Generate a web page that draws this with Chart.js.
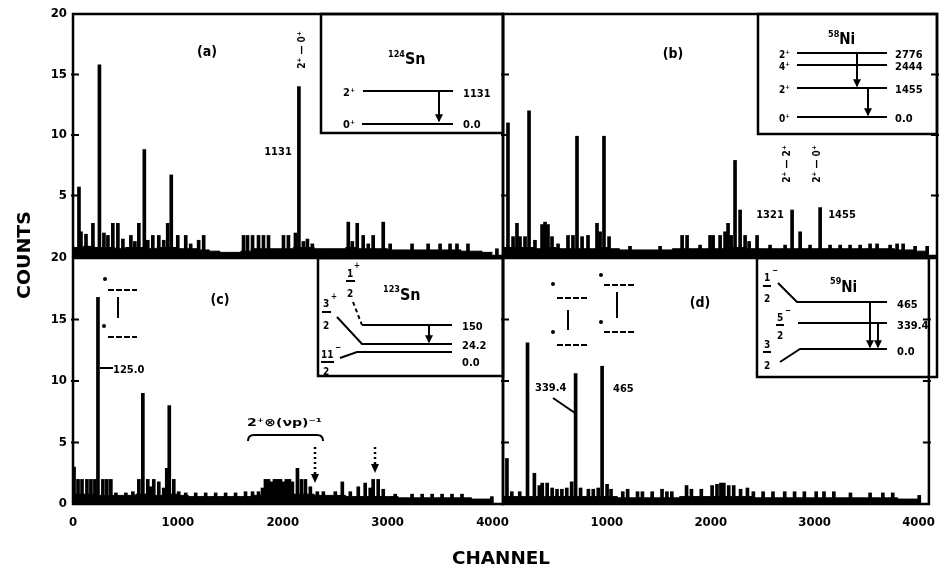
<!DOCTYPE html>
<html><head><meta charset="utf-8">
<script src="https://cdn.jsdelivr.net/npm/chart.js@4"></script>
<style>
html,body{margin:0;padding:0;background:#fff;}
#wrap{position:relative;width:946px;height:575px;overflow:hidden;background:#fff;}
canvas{position:absolute;left:0;top:0;}
svg{position:absolute;left:0;top:0;}
</style></head><body>
<div id="wrap">
<canvas id="ca" width="946" height="575"></canvas>
<canvas id="cb" width="946" height="575"></canvas>
<canvas id="cc" width="946" height="575"></canvas>
<canvas id="cd" width="946" height="575"></canvas>
<svg width="946" height="575" font-family="'DejaVu Sans Condensed','DejaVu Sans',sans-serif" font-weight="bold" fill="#000">
<defs><marker id="ah" viewBox="0 0 6 6" refX="5" refY="3" markerWidth="4" markerHeight="4" orient="auto"><path d="M0,0 L6,3 L0,6 z" fill="#000"/></marker></defs>
<g stroke="#000" fill="none" stroke-width="2.5">
 <rect x="321" y="14" width="182" height="119"/>
 <rect x="758" y="14" width="179" height="120"/>
 <rect x="318" y="258" width="185" height="118"/>
 <rect x="757" y="258" width="180" height="119"/>
</g>
<!-- panel a -->
<text x="207" y="56" font-size="14" text-anchor="middle">(a)</text>
<text x="278" y="155" font-size="11" text-anchor="middle">1131</text>
<text transform="translate(305,50) rotate(-90)" font-size="10" text-anchor="middle">2⁺ — 0⁺</text>
<text x="388" y="64"><tspan font-size="9" dy="-7">124</tspan><tspan font-size="16" dy="7">Sn</tspan></text>
<text x="343" y="96" font-size="11">2⁺</text>
<text x="343" y="128" font-size="11">0⁺</text>
<g stroke="#000" stroke-width="2" fill="none">
 <line x1="363" y1="91" x2="453" y2="91"/><line x1="362" y1="124" x2="453" y2="124"/>
 <line x1="439" y1="92" x2="439" y2="121" marker-end="url(#ah)"/>
</g>
<text x="463" y="97" font-size="11">1131</text>
<text x="463" y="128" font-size="11">0.0</text>
<!-- panel b -->
<text x="673" y="58" font-size="14" text-anchor="middle">(b)</text>
<text x="828" y="44"><tspan font-size="9" dy="-7">58</tspan><tspan font-size="15" dy="7">Ni</tspan></text>
<text x="779" y="58" font-size="10">2⁺</text><text x="779" y="70" font-size="10">4⁺</text>
<text x="779" y="93" font-size="10">2⁺</text><text x="779" y="122" font-size="10">0⁺</text>
<g stroke="#000" stroke-width="2" fill="none">
 <line x1="797" y1="53" x2="887" y2="53"/><line x1="797" y1="65" x2="887" y2="65"/>
 <line x1="797" y1="88" x2="887" y2="88"/><line x1="797" y1="117" x2="887" y2="117"/>
 <line x1="857" y1="54" x2="857" y2="86" marker-end="url(#ah)"/>
 <line x1="868" y1="89" x2="868" y2="115" marker-end="url(#ah)"/>
</g>
<text x="895" y="58" font-size="11">2776</text><text x="895" y="70" font-size="11">2444</text>
<text x="895" y="93" font-size="11">1455</text><text x="895" y="122" font-size="11">0.0</text>
<text transform="translate(790,164) rotate(-90)" font-size="10" text-anchor="middle">2⁺ — 2⁺</text>
<text transform="translate(820,164) rotate(-90)" font-size="10" text-anchor="middle">2⁺ — 0⁺</text>
<text x="770" y="218" font-size="11" text-anchor="middle">1321</text>
<text x="842" y="218" font-size="11" text-anchor="middle">1455</text>
<!-- panel c -->
<text x="220" y="304" font-size="14" text-anchor="middle">(c)</text>
<g stroke="#000" stroke-width="2" fill="none">
 <line x1="108" y1="290" x2="137" y2="290" stroke-dasharray="6 2"/>
 <line x1="108" y1="337" x2="137" y2="337" stroke-dasharray="6 2"/>
 <line x1="118" y1="297" x2="118" y2="318"/>
 <line x1="100" y1="368" x2="113" y2="368"/>
 <path d="M248,441 Q248,435 254,435 L317,435 Q323,435 323,441"/>
</g>
<circle cx="105" cy="279" r="2"/><circle cx="104" cy="326" r="2"/>
<text x="113" y="373" font-size="11">125.0</text>
<text x="247" y="426" font-size="11" textLength="75" lengthAdjust="spacingAndGlyphs">2⁺⊗(νp)⁻¹</text>
<g stroke="#000" stroke-width="2.5" fill="none" stroke-dasharray="2 3">
 <line x1="315" y1="447" x2="315" y2="476"/><line x1="375" y1="447" x2="375" y2="466"/>
</g>
<path d="M311,474 L319,474 L315,483 z"/><path d="M371,464 L379,464 L375,473 z"/>
<text x="383" y="300"><tspan font-size="9" dy="-8">123</tspan><tspan font-size="16" dy="8">Sn</tspan></text>
<g font-size="10">
 <text x="347" y="277">1</text><text x="347" y="297">2</text><text x="354" y="268" font-size="8">+</text>
 <text x="323" y="307">3</text><text x="323" y="329">2</text><text x="331" y="299" font-size="8">+</text>
 <text x="321" y="358">11</text><text x="323" y="375">2</text><text x="335" y="350" font-size="8">−</text>
</g>
<g stroke="#000" stroke-width="2" fill="none">
 <line x1="346" y1="281" x2="355" y2="281"/><line x1="322" y1="312" x2="331" y2="312"/><line x1="321" y1="362" x2="334" y2="362"/>
 <path d="M353,302 L362,325" stroke-dasharray="4 3"/>
 <line x1="362" y1="325" x2="452" y2="325"/>
 <path d="M337,317 L362,344 L452,344"/>
 <path d="M340,358 L357,352 L452,352"/>
 <line x1="429" y1="326" x2="429" y2="342" marker-end="url(#ah)"/>
</g>
<text x="462" y="330" font-size="11">150</text>
<text x="462" y="349" font-size="11">24.2</text>
<text x="462" y="366" font-size="11">0.0</text>
<!-- panel d -->
<text x="700" y="307" font-size="14" text-anchor="middle">(d)</text>
<g stroke="#000" stroke-width="2" fill="none">
 <line x1="557" y1="298" x2="587" y2="298" stroke-dasharray="6 2"/>
 <line x1="557" y1="345" x2="587" y2="345" stroke-dasharray="6 2"/>
 <line x1="568" y1="310" x2="568" y2="330"/>
 <line x1="604" y1="285" x2="635" y2="285" stroke-dasharray="6 2"/>
 <line x1="604" y1="332" x2="635" y2="332" stroke-dasharray="6 2"/>
 <line x1="617" y1="292" x2="617" y2="318"/>
 <line x1="553" y1="398" x2="575" y2="413"/>
</g>
<circle cx="553" cy="284" r="2"/><circle cx="553" cy="332" r="2"/>
<circle cx="601" cy="275" r="2"/><circle cx="601" cy="322" r="2"/>
<text x="535" y="391" font-size="11">339.4</text>
<text x="613" y="392" font-size="11">465</text>
<text x="830" y="292"><tspan font-size="9" dy="-8">59</tspan><tspan font-size="15" dy="8">Ni</tspan></text>
<g font-size="10">
 <text x="764" y="281">1</text><text x="764" y="302">2</text><text x="772" y="273" font-size="8">−</text>
 <text x="777" y="321">5</text><text x="777" y="339">2</text><text x="785" y="313" font-size="8">−</text>
 <text x="764" y="348">3</text><text x="764" y="369">2</text>
</g>
<g stroke="#000" stroke-width="2" fill="none">
 <line x1="763" y1="286" x2="771" y2="286"/><line x1="776" y1="325" x2="784" y2="325"/><line x1="763" y1="352" x2="771" y2="352"/>
 <path d="M778,283 L797,302 L887,302"/>
 <line x1="798" y1="323" x2="887" y2="323"/>
 <path d="M780,362 L800,349 L887,349"/>
 <line x1="870" y1="303" x2="870" y2="347" marker-end="url(#ah)"/>
 <line x1="878" y1="324" x2="878" y2="347" marker-end="url(#ah)"/>
</g>
<text x="897" y="308" font-size="11">465</text>
<text x="897" y="329" font-size="11">339.4</text>
<text x="897" y="355" font-size="11">0.0</text>
<!-- axis titles -->
<text transform="translate(30,255) rotate(-90)" font-size="18" text-anchor="middle" textLength="88" lengthAdjust="spacingAndGlyphs">COUNTS</text>
<text x="501" y="564" font-size="18" text-anchor="middle" textLength="98" lengthAdjust="spacingAndGlyphs">CHANNEL</text>
</svg>
</div>
<script>
// ---- tick labels ----
const xTicks = [0, 1000, 2000, 3000, 4000];
const yTicks = [0, 5, 10, 15, 20];
// ---- background (continuum) sampling channels ----
const baseChannels = [0,100,200,300,400,500,600,700,800,900,1000,1100,1200,1300,1400,1500,1600,1700,1800,1900,2000,2100,2200,2300,2400,2500,2600,2700,2800,2900,3000,3100,3200,3300,3400,3500,3600,3700,3800,3900,4000];
// ---- panel (a) 124Sn ----
const aChannels = [57,76,124,190,252,295,333,380,428,476,552,590,628,680,713,761,818,865,903,937,999,1075,1122,1198,1246,1626,1664,1712,1769,1816,1864,2007,2054,2121,2154,2197,2235,2282,2625,2663,2710,2767,2815,2862,2958,3024,3233,3386,3500,3595,3661,3766,4042];
const aCounts = [5.7,2.0,1.8,2.7,15.8,1.9,1.7,2.7,2.7,1.4,1.7,1.2,2.7,8.8,1.3,1.7,1.7,1.3,2.7,6.7,1.7,1.7,1.0,1.3,1.7,1.7,1.7,1.7,1.7,1.7,1.7,1.7,1.7,1.9,14.0,1.2,1.4,1.0,2.8,1.2,2.7,1.7,1.0,1.7,2.8,1.0,1.0,1.0,1.0,1.0,1.0,1.0,0.6];
const aBase = [0.7,0.8,0.7,0.7,0.6,0.7,0.7,0.6,0.7,0.7,0.6,0.6,0.5,0.4,0.3,0.3,0.4,0.6,0.6,0.6,0.6,0.7,0.7,0.6,0.6,0.6,0.7,0.6,0.6,0.6,0.5,0.5,0.5,0.5,0.5,0.5,0.5,0.4,0.4,0.3,0.3];
// ---- panel (b) 58Ni ----
const bChannels = [47,95,132,161,208,246,302,369,397,425,463,520,614,661,699,747,803,888,917,954,1002,1200,1484,1692,1739,1862,1956,1985,2051,2098,2126,2155,2192,2240,2287,2325,2400,2523,2665,2731,2807,2901,2996,3090,3185,3279,3374,3468,3534,3657,3723,3780,3893,4007];
const bCounts = [11.0,1.6,2.7,1.6,1.6,12.0,1.3,2.6,2.8,2.6,1.6,1.0,1.7,1.7,9.9,1.6,1.7,2.7,2.0,9.9,1.6,0.8,0.8,1.7,1.7,0.9,1.7,1.7,1.7,2.0,2.7,1.7,7.9,3.8,1.7,1.2,1.7,0.9,0.9,3.8,2.0,0.9,4.0,0.9,0.9,0.9,0.9,1.0,1.0,0.9,1.0,1.0,0.8,0.8];
const bBase = [0.7,0.7,0.7,0.6,0.7,0.6,0.6,0.6,0.6,0.7,0.6,0.5,0.5,0.5,0.5,0.5,0.6,0.6,0.6,0.6,0.6,0.7,0.7,0.6,0.6,0.6,0.6,0.6,0.6,0.6,0.6,0.6,0.6,0.6,0.6,0.6,0.6,0.5,0.5,0.4,0.3];
// ---- panel (c) 123Sn ----
const cChannels = [10,48,86,133,171,209,238,285,323,361,409,504,571,628,666,713,742,770,818,865,894,918,961,1008,1075,1170,1265,1360,1455,1550,1645,1712,1769,1807,1835,1864,1893,1921,1950,1978,2007,2035,2064,2092,2140,2178,2216,2263,2330,2387,2501,2568,2644,2720,2786,2834,2862,2910,2958,3072,3233,3329,3424,3519,3614,3709,3994];
const cCounts = [3.0,2.0,2.0,2.0,2.0,2.0,16.8,2.0,2.0,2.0,0.9,0.9,1.0,2.0,9.0,2.0,1.4,2.0,1.8,1.3,2.9,8.0,2.0,1.0,0.9,0.9,0.9,0.9,0.9,0.9,1.0,1.0,1.0,1.3,2.0,2.0,1.8,2.0,2.0,2.0,1.8,2.0,2.0,1.8,2.9,2.0,2.0,1.4,1.0,1.0,1.0,1.8,1.0,1.4,1.7,1.3,2.0,2.0,1.2,0.8,0.8,0.8,0.8,0.8,0.8,0.8,0.6];
const cBase = [0.8,0.8,0.7,0.7,0.7,0.7,0.8,0.7,0.7,0.8,0.7,0.6,0.6,0.6,0.6,0.6,0.6,0.7,0.8,0.8,0.8,0.8,0.8,0.7,0.7,0.7,0.6,0.6,0.6,0.6,0.6,0.5,0.5,0.5,0.5,0.5,0.5,0.5,0.4,0.4,0.3];
// ---- panel (d) 59Ni ----
const dChannels = [38,85,161,236,302,350,378,425,473,520,567,614,661,699,747,822,869,917,954,1002,1040,1153,1200,1295,1342,1436,1531,1578,1625,1767,1814,1909,2013,2060,2098,2126,2173,2221,2287,2353,2410,2504,2599,2712,2807,2901,3015,3090,3185,3345,3534,3657,3752,4007];
const dCounts = [3.7,1.0,1.0,13.1,2.5,1.5,1.7,1.7,1.3,1.2,1.2,1.3,1.8,10.6,1.3,1.2,1.2,1.3,11.2,1.6,1.2,1.0,1.2,1.0,1.0,1.0,1.2,1.0,1.0,1.5,1.2,1.2,1.5,1.6,1.7,1.7,1.5,1.5,1.2,1.3,1.0,1.0,1.0,1.0,1.0,1.0,1.0,1.0,1.0,0.9,0.9,0.9,0.9,0.7];
const dBase = [0.6,0.6,0.6,0.6,0.6,0.6,0.6,0.6,0.6,0.6,0.6,0.5,0.5,0.5,0.5,0.5,0.5,0.6,0.6,0.6,0.6,0.6,0.6,0.6,0.5,0.5,0.5,0.5,0.5,0.5,0.5,0.5,0.5,0.5,0.5,0.5,0.5,0.5,0.4,0.4,0.3];

const FONT = "'DejaVu Sans Condensed','DejaVu Sans',sans-serif";
const W = 946, H = 575;

function framePlugin(opt) {
  return {
    id: 'frame',
    afterDatasetsDraw(chart) {
      const {ctx, chartArea: a, scales: {y}} = chart;
      ctx.save();
      ctx.strokeStyle = '#000';
      ctx.lineWidth = 2.5;
      ctx.strokeRect(a.left, a.top, a.right - a.left, a.bottom - a.top);
      ctx.lineWidth = 2;
      ctx.beginPath();
      yTicks.forEach(v => {
        if (v === 0 || v === 20) return;
        const py = y.getPixelForValue(v);
        ctx.moveTo(a.left - 2, py); ctx.lineTo(a.left + 6, py);
        if (opt.rightTicks) { ctx.moveTo(a.right + 2, py); ctx.lineTo(a.right - 6, py); }
      });
      ctx.stroke();
      ctx.restore();
    }
  };
}

function makePanel(id, ch, cnt, base, opt) {
  const area = opt.area;
  const yW = opt.left ? 40 : 0;
  const xH = opt.bottom ? 30 : 0;
  const tickFont = {family: FONT, size: 13, weight: 'bold'};
  new Chart(document.getElementById(id), {
    type: 'bar',
    data: {
      datasets: [
        {type: 'line', data: baseChannels.map((c, i) => ({x: c, y: base[i]})), stepped: true, fill: 'origin',
         backgroundColor: '#000', borderColor: '#000', borderWidth: 1, pointRadius: 0, order: 2},
        {type: 'bar', data: ch.map((c, i) => ({x: c, y: cnt[i]})), backgroundColor: '#000',
         barThickness: 3, grouped: false, order: 1}
      ]
    },
    options: {
      responsive: false, animation: false, devicePixelRatio: 1,
      layout: {padding: {left: area.left - yW, top: area.top, right: W - area.right, bottom: H - area.bottom - xH}},
      plugins: {legend: {display: false}, tooltip: {enabled: false}},
      scales: {
        x: {type: 'linear', min: 0, max: 4100, offset: false,
            grid: {display: false, drawTicks: false, offset: false}, border: {display: false},
            afterBuildTicks: s => { s.ticks = xTicks.map(v => ({value: v})); },
            afterFit: s => { s.height = xH; },
            ticks: {display: !!opt.bottom, padding: 11, maxRotation: 0, autoSkip: false, color: '#000', font: tickFont,
                    callback: v => (opt.hideX0 && v === 0) ? '' : String(v)}},
        y: {type: 'linear', min: 0, max: 20,
            grid: {display: false, drawTicks: false}, border: {display: false},
            afterBuildTicks: s => { s.ticks = yTicks.map(v => ({value: v})); },
            afterFit: s => { s.width = yW; },
            ticks: {display: !!opt.left, padding: 6, color: '#000', font: tickFont,
                    callback: v => (opt.hideY0 && v === 0) ? '' : String(v)}}
      }
    },
    plugins: [framePlugin(opt)]
  });
}

makePanel('ca', aChannels, aCounts, aBase, {area: {left: 73, top: 14, right: 503, bottom: 256}, left: true, bottom: false, hideY0: true});
makePanel('cb', bChannels, bCounts, bBase, {area: {left: 503, top: 14, right: 937, bottom: 256}, left: false, bottom: false, rightTicks: true});
makePanel('cc', cChannels, cCounts, cBase, {area: {left: 73, top: 258, right: 503, bottom: 504}, left: true, bottom: true});
makePanel('cd', dChannels, dCounts, dBase, {area: {left: 503, top: 258, right: 937, bottom: 504}, left: false, bottom: true, hideX0: true, rightTicks: true});
</script>
</body></html>
